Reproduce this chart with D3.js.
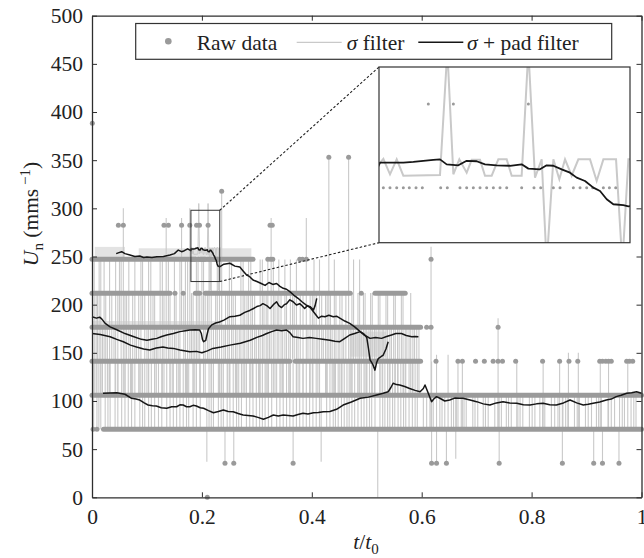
<!DOCTYPE html>
<html><head><meta charset="utf-8">
<script src="https://cdn.jsdelivr.net/npm/d3@7"></script>
<style>body{margin:0;background:#fff}svg{display:block}text{font-family:"Liberation Serif","Times New Roman",serif;fill:#222}</style>
</head><body><svg id="c" width="644" height="558"></svg>
<script>
// ---------- data ----------
const xTicks = [0, 0.2, 0.4, 0.6, 0.8, 1];
const xTickLabels = ["0", "0.2", "0.4", "0.6", "0.8", "1"];
const yTicks = [0, 50, 100, 150, 200, 250, 300, 350, 400, 450, 500];
const legendLabels = ["Raw data", "σ filter", "σ + pad filter"];

// raw data: dense runs at quantised levels [level, tStart, tEnd]
const rawRuns = [
  [70.6, 0.021, 1.0],
  [105.9, 0.0, 1.0],
  [141.2, 0.0, 0.36], [141.2, 0.37, 0.598],
  [176.5, 0.0, 0.598],
  [211.8, 0.0, 0.142], [211.8, 0.188, 0.196], [211.8, 0.206, 0.47], [211.8, 0.515, 0.57],
  [247.1, 0.0, 0.18], [247.1, 0.2325, 0.293]
];
// raw data: isolated samples [t, value]
const rawPoints = [
  [0.0006, 388.3], [0.2098, 0],
  [0.002, 70.6], [0.009, 70.6],
  [0.242, 35.3], [0.258, 35.3], [0.366, 35.3], [0.618, 35.3], [0.627, 35.3], [0.645, 35.3],
  [0.741, 35.3], [0.856, 35.3], [0.913, 35.3], [0.929, 35.3], [0.959, 35.3],
  [0.626, 141.2], [0.666, 141.2], [0.674, 141.2], [0.698, 141.2], [0.714, 141.2], [0.730, 141.2],
  [0.739, 141.2], [0.747, 141.2], [0.771, 141.2], [0.820, 141.2], [0.851, 141.2], [0.868, 141.2],
  [0.884, 141.2], [0.924, 141.2], [0.929, 141.2], [0.935, 141.2], [0.940, 141.2], [0.945, 141.2],
  [0.973, 141.2], [0.978, 141.2], [0.984, 141.2],
  [0.609, 176.5], [0.617, 176.5], [0.739, 176.5],
  [0.151, 211.8], [0.166, 211.8], [0.49, 211.8],
  [0.18091, 247.1], [0.18230, 247.1], [0.18370, 247.1], [0.18509, 247.1], [0.18634, 247.1],
  [0.18774, 247.1], [0.18906, 247.1], [0.19290, 247.1], [0.19429, 247.1], [0.19694, 247.1],
  [0.19834, 247.1], [0.19973, 247.1], [0.20113, 247.1], [0.20252, 247.1], [0.20392, 247.1],
  [0.20531, 247.1], [0.20671, 247.1], [0.20984, 247.1], [0.21242, 247.1], [0.21382, 247.1],
  [0.21647, 247.1], [0.21786, 247.1], [0.22065, 247.1], [0.22205, 247.1], [0.22344, 247.1],
  [0.22470, 247.1], [0.22693, 247.1], [0.22819, 247.1], [0.22951, 247.1],
  [0.32, 247.1], [0.325, 247.1], [0.329, 247.1], [0.378, 247.1], [0.383, 247.1], [0.39, 247.1], [0.617, 247.1],
  [0.048, 282.4], [0.057, 282.4], [0.131, 282.4], [0.139, 282.4], [0.163, 282.4], [0.178, 282.4],
  [0.19032, 282.4], [0.19555, 282.4], [0.21124, 282.4], [0.324, 282.4], [0.328, 282.4],
  [0.236, 317.7], [0.431, 353], [0.467, 353]
];

// sigma filter: light fuzz bands [tStart, tEnd, low, high]
const sigmaBands = [
  [0.005, 0.06, 247.1, 260], [0.085, 0.29, 247.1, 258.5],
  [0.0, 0.235, 176.5, 183], [0.47, 0.535, 146, 172]
];
// sigma filter: spikes of the filtered signal [t, low, high]
const sigmaSpikes = [
  [0.004,105.9,247],[0.01,141,212],[0.016,105.9,247],[0.022,141,247],[0.028,105.9,176],[0.036,141,212],
  [0.043,105.9,247],[0.05,176,247],[0.057,105.9,300],[0.063,141,212],[0.07,105.9,176],[0.078,141,247],
  [0.085,105.9,212],[0.092,176,247],[0.1,105.9,176],[0.107,141,247],[0.114,105.9,212],[0.12,141,176],
  [0.128,105.9,247],[0.135,141,290],[0.142,105.9,212],[0.15,141,247],[0.157,105.9,176],[0.163,176,290],
  [0.17,105.9,247],[0.178,141,300],[0.184,105.9,212],[0.19,141,247],[0.196,105.9,212],[0.2,176,247],
  [0.206,105.9,212],[0.213,141,247],[0.221,105.9,176],[0.228,141,247],[0.236,105.9,317.7],[0.243,141,212],
  [0.25,105.9,247],[0.257,141,212],[0.264,105.9,176],[0.271,141,247],[0.278,105.9,212],[0.285,141,247],
  [0.292,105.9,212],[0.299,141,176],[0.306,105.9,247],[0.313,141,212],[0.32,105.9,247],[0.326,141,290],
  [0.333,105.9,212],[0.34,141,247],[0.347,105.9,176],[0.354,141,212],[0.361,105.9,247],[0.368,141,212],
  [0.375,105.9,176],[0.39,141,290],[0.397,105.9,212],[0.404,141,247],[0.411,105.9,176],[0.418,141,212],
  [0.425,105.9,212],[0.431,141,353],[0.437,105.9,176],[0.444,141,212],[0.451,105.9,212],[0.458,141,176],
  [0.467,141,353],[0.473,105.9,212],[0.48,141,176],[0.487,105.9,247],[0.494,141,212],[0.5,105.9,176],
  [0.507,141,212],[0.514,105.9,176],[0.521,141,212],[0.528,105.9,176],[0.535,141,212],[0.542,105.9,176],
  [0.549,141,212],[0.556,105.9,176],[0.563,141,212],[0.57,105.9,176],[0.577,141,176],[0.584,105.9,176],
  [0.591,141,176],
  [0.209,37,105.9],[0.417,37,105.9],[0.52,0,70.6],
  [0.242,35.3,70.6],[0.258,35.3,70.6],[0.366,35.3,70.6],
  [0.617,70.6,260],[0.618,35.3,141],[0.627,35.3,148],[0.645,35.3,70.6],[0.648,70.6,148],[0.662,40,105.9],
  [0.666,70.6,141],[0.674,70.6,141],[0.739,70.6,186],[0.741,35.3,105.9],[0.773,70.6,141],[0.821,70.6,141],
  [0.851,70.6,141],[0.856,35.3,105.9],[0.867,70.6,150],[0.885,70.6,150],[0.913,35.3,70.6],[0.925,70.6,141],
  [0.929,35.3,70.6],[0.94,70.6,141],[0.959,35.3,70.6],[0.975,70.6,141]
];
const sigmaSpikesB = [
  [0.0075,105.9,212],[0.013,141,247],[0.019,105.9,176],[0.025,141,212],[0.032,105.9,247],[0.04,141,176],
  [0.047,105.9,212],[0.053,141,247],[0.06,105.9,212],[0.067,141,247],[0.074,105.9,212],[0.081,141,176],
  [0.089,105.9,247],[0.096,141,212],[0.103,105.9,247],[0.111,141,212],[0.117,105.9,176],[0.124,141,247],
  [0.131,105.9,212],[0.139,141,247],[0.146,105.9,176],[0.153,141,212],[0.16,105.9,247],[0.167,141,212],
  [0.174,105.9,247],[0.181,141,212],[0.187,105.9,176],[0.193,141,247],[0.203,105.9,247],[0.21,141,212],
  [0.217,105.9,247],[0.225,141,212],[0.232,105.9,247],[0.24,141,176],[0.247,105.9,212],[0.254,141,247],
  [0.261,105.9,212],[0.268,141,176],[0.275,105.9,247],[0.282,141,212],[0.289,105.9,247],[0.296,141,212],
  [0.303,105.9,176],[0.31,141,247],[0.317,105.9,212],[0.323,141,176],[0.33,105.9,247],[0.337,141,212],
  [0.344,105.9,212],[0.351,141,247],[0.358,105.9,176],[0.365,141,212],[0.372,105.9,247],[0.379,141,212],
  [0.384,105.9,212],[0.393,141,176],[0.401,105.9,212],[0.408,141,212],[0.414,105.9,247],[0.421,141,176],
  [0.428,105.9,212],[0.434,141,212],[0.441,105.9,247],[0.448,141,176],[0.455,105.9,212],[0.462,141,212],
  [0.47,105.9,176],[0.476,141,247],[0.484,105.9,212],[0.49,141,176],[0.497,105.9,212],[0.504,141,176],
  [0.51,105.9,212],[0.517,141,176],[0.524,105.9,212],[0.531,141,176],[0.538,105.9,212],[0.545,141,176],
  [0.552,105.9,212],[0.559,141,176],[0.566,105.9,212],[0.573,141,176],[0.58,105.9,212],[0.587,141,176],
  [0.595,105.9,176]
];
// sigma filter: spikes between the two lowest busy levels (t values)
const sigmaLowEarly = [0.003,0.009,0.016,0.024,0.033,0.042,0.054,0.066,0.078,0.087,0.096,0.103,0.114,0.127,
  0.136,0.148,0.16,0.172,0.176,0.19,0.213,0.221,0.23,0.239,0.251,0.263,0.272,0.281,0.293,0.305,0.315,0.327,
  0.336,0.348,0.36,0.372,0.384,0.396,0.408,0.427,0.439,0.448,0.459,0.468,0.478,0.49,0.5,0.509,0.524,0.533,
  0.542,0.551,0.562,0.571,0.583,0.592,
  0.0125,0.029,0.047,0.06,0.072,0.092,0.108,0.121,0.142,0.154,0.166,0.184,0.197,0.217,0.235,0.246,0.257,
  0.267,0.287,0.299,0.31,0.321,0.342,0.354,0.366,0.378,0.39,0.402,0.414,0.433,0.443,0.454,0.464,0.473,
  0.484,0.495,0.505,0.515,0.529,0.538,0.547,0.557,0.567,0.577,0.588];
const sigmaLowLate = [0.603,0.609,0.621,0.633,0.642,0.654,0.663,0.672,0.681,0.693,0.702,0.712,0.721,0.733,
  0.745,0.754,0.763,0.775,0.784,0.796,0.806,0.815,0.824,0.836,0.848,0.857,0.866,0.878,0.887,0.898,0.909,
  0.918,0.927,0.939,0.951,0.96,0.969,0.981,0.99,
  0.615,0.637,0.658,0.677,0.697,0.716,0.739,0.758,0.779,0.801,0.82,0.842,0.862,0.883,0.903,0.922,0.945,
  0.965,0.986];
// sigma filter trace inside the zoom window [t, value]
const sigmaWindow = [
  [0.1795,256],[0.18091,259.3],[0.18230,252.8],[0.18370,259.1],[0.18509,252.2],[0.19276,252.5],[0.19429,305],
  [0.19555,252.8],[0.19680,259.1],[0.19834,253.5],[0.19938,258.9],[0.20113,258.9],[0.20217,252.2],[0.20357,252.2],
  [0.20496,259.1],[0.20671,259.1],[0.20775,252.2],[0.20984,252.2],[0.21124,305],[0.21263,251.4],[0.21403,259.1],
  [0.21507,215],[0.21647,259.1],[0.21772,250.7],[0.21891,259.1],[0.22030,252.2],[0.22170,259.1],[0.22414,259.1],
  [0.22553,250],[0.22693,259.1],[0.22958,259.1],[0.23090,215],[0.23216,259.1],[0.2335,259.1]
];

// sigma + pad filter traces [t, value]
const padA = [
  [0.044,253],[0.049,254],[0.054,255],[0.06,253],[0.069,251.5],[0.078,250],[0.087,250.5],[0.094,249],[0.1,249.5],
  [0.109,249],[0.118,249.8],[0.13,250],[0.142,251.5],[0.15,253],[0.157,256.7],[0.163,255],[0.168,256],[0.174,258],
  [0.17986,256.1],[0.18021,257.7],[0.18125,257.7],[0.18509,257.7],[0.18718,258],[0.18927,258.5],[0.19136,258.9],
  [0.19276,259.1],[0.19415,257],[0.19659,256.6],[0.19834,258.5],[0.20043,258.3],[0.20217,257],[0.20461,256.6],
  [0.20740,256.4],[0.20984,257],[0.21124,255.2],[0.21367,254.9],[0.21507,256.6],[0.21647,256.4],[0.21821,254.9],
  [0.21995,253.5],[0.22135,251.4],[0.22309,250],[0.22483,247.2],[0.22623,245.8],[0.22763,242.3],[0.22901,240.2],
  [0.2311,239.8],[0.23216,239.3],[0.24,242],[0.251,243],[0.26,240],[0.269,239],[0.275,235],[0.281,231],[0.287,229],
  [0.293,225.6],[0.3,224],[0.308,222],[0.315,220],[0.322,223],[0.329,221],[0.336,222],[0.342,219],[0.348,217],
  [0.354,216],[0.36,213.5],[0.367,210],[0.375,206.6],[0.382,203],[0.39,199.6],[0.397,197],[0.403,192.7],
  [0.408,189],[0.412,186],[0.418,188],[0.424,187.5],[0.431,189],[0.439,187.5],[0.445,188],[0.451,186],
  [0.46,183],[0.469,180.6],[0.478,177],[0.488,172],[0.494,170],[0.5,166],[0.503,155],[0.506,142.7],[0.511,138],
  [0.515,132],[0.518,140],[0.521,144],[0.526,146],[0.53,147.7],[0.535,154],[0.539,161.5]
];
const padB = [
  [0,187.5],[0.008,186],[0.014,187],[0.018,185],[0.024,180.6],[0.033,177],[0.045,174],[0.06,170],[0.075,167],
  [0.09,164],[0.1,163],[0.109,164],[0.118,165],[0.127,167],[0.136,168.5],[0.148,170],[0.16,172],[0.17,173],
  [0.178,173.7],[0.188,174],[0.196,173.7],[0.199,170],[0.201,164],[0.203,161.5],[0.207,163],[0.209,168],
  [0.212,175],[0.218,179],[0.225,181],[0.232,182],[0.24,184],[0.251,187.5],[0.26,188],[0.269,189],[0.278,192],
  [0.287,194],[0.294,196],[0.3,198],[0.306,199],[0.311,201],[0.318,199],[0.324,196],[0.33,200],[0.336,203],
  [0.34,199],[0.345,197],[0.35,200],[0.354,201],[0.36,205],[0.366,203],[0.372,199.6],[0.378,201],[0.381,199.6],
  [0.387,196],[0.392,199],[0.397,198],[0.403,194.5],[0.406,199],[0.409,206.6]
];
const padC = [
  [0,170],[0.015,169],[0.033,166.7],[0.045,164],[0.057,161.5],[0.07,158],[0.081,156],[0.094,154],[0.105,153],
  [0.117,155],[0.129,156],[0.138,155],[0.148,154.6],[0.16,153],[0.178,151],[0.19,151.5],[0.2,150],[0.21,152],
  [0.22,154.6],[0.235,156],[0.251,158],[0.27,160],[0.288,163],[0.3,166],[0.31,168],[0.318,170],[0.327,172],
  [0.336,173.7],[0.345,173],[0.354,173.7],[0.36,171],[0.366,166.7],[0.375,166],[0.384,165],[0.396,166],
  [0.408,165],[0.42,164],[0.433,163],[0.442,162],[0.451,161.5],[0.46,165],[0.469,168.5],[0.478,170],
  [0.488,172],[0.494,169],[0.5,167],[0.506,165],[0.516,166],[0.527,165],[0.536,167],[0.545,168.5],[0.553,170],
  [0.563,170],[0.572,168],[0.582,166.7],[0.588,167],[0.594,166.7]
];
const padD = [
  [0.02,108],[0.045,108.5],[0.06,107],[0.072,102.8],[0.08,102],[0.087,101],[0.095,98],[0.102,95.8],[0.11,95],
  [0.117,94.8],[0.126,93],[0.136,92.4],[0.145,94],[0.154,94],[0.16,96],[0.166,95.8],[0.172,94],[0.178,94],
  [0.184,95.5],[0.19,94.8],[0.197,93],[0.203,92.4],[0.212,90],[0.221,87.8],[0.23,89],[0.239,90.6],[0.248,89],
  [0.257,88.9],[0.266,87],[0.275,85.4],[0.284,85],[0.293,84.4],[0.302,83],[0.312,81],[0.321,83],[0.33,85.4],
  [0.339,84.5],[0.348,85.4],[0.357,85],[0.366,84.4],[0.375,86],[0.384,87.2],[0.393,86.5],[0.403,87.8],
  [0.412,88],[0.421,88.9],[0.433,89],[0.445,91.4],[0.457,95.8],[0.472,99],[0.488,102.8],[0.503,104],
  [0.518,106.2],[0.53,108],[0.539,109.6],[0.544,114],[0.548,118.4],[0.554,117],[0.56,116.6],[0.569,115],
  [0.578,113],[0.588,111],[0.597,109.6],[0.603,113],[0.606,116.6],[0.612,108],[0.618,99.3],[0.622,102],
  [0.627,104.5],[0.633,102.8],[0.642,100],[0.651,101],[0.66,103],[0.669,102.8],[0.675,102.8],[0.688,101],
  [0.7,99.3],[0.712,97],[0.724,95.8],[0.736,98],[0.748,99.3],[0.76,98],[0.773,97.6],[0.785,96],[0.797,95.8],
  [0.809,97],[0.821,97.6],[0.833,96],[0.845,95.8],[0.858,98],[0.87,101],[0.882,98],[0.894,95.8],[0.903,96.5],
  [0.912,97.6],[0.924,99],[0.936,101],[0.945,102],[0.954,104.5],[0.963,106],[0.973,108],[0.982,108.5],
  [0.991,109.6],[1.0,108]
];
const zoomWindowT = [0.18, 0.2325];
const zoomWindowV = [224, 298];

// ---------- drawing ----------
const svg = d3.select("#c");
const x = d3.scaleLinear([0, 1], [92, 641.5]);
const y = d3.scaleLinear([0, 500], [497.3, 15.7]);
const RAW = "#9a9a9a", SIG = "#c9c9c9", PAD = "#161616", AX = "#2e2e2e";
const FS = 21.5;

const plot = svg.append("g");
plot.selectAll("rect.band").data(sigmaBands).join("rect").attr("class", "band")
  .attr("x", d => x(d[0])).attr("width", d => x(d[1]) - x(d[0]))
  .attr("y", d => y(d[3])).attr("height", d => y(d[2]) - y(d[3]))
  .attr("fill", "#e3e3e3");
const spikeData = sigmaSpikes.concat(sigmaSpikesB)
  .concat(sigmaLowEarly.map(t => [t, 70.6, 141.2]))
  .concat(sigmaLowLate.map(t => [t, 70.6, 105.9]));
plot.selectAll("line.spk").data(spikeData).join("line").attr("class", "spk")
  .attr("x1", d => x(d[0])).attr("x2", d => x(d[0]))
  .attr("y1", d => y(d[1])).attr("y2", d => y(d[2]))
  .attr("stroke", SIG).attr("stroke-width", 1.1);
const lineGen = (sx, sy) => d3.line().x(d => sx(d[0])).y(d => sy(d[1]));
plot.append("path").datum(sigmaWindow).attr("d", lineGen(x, y))
  .attr("fill", "none").attr("stroke", SIG).attr("stroke-width", 1);
plot.selectAll("line.run").data(rawRuns).join("line").attr("class", "run")
  .attr("x1", d => x(d[1])).attr("x2", d => x(d[2]))
  .attr("y1", d => y(d[0])).attr("y2", d => y(d[0]))
  .attr("stroke", RAW).attr("stroke-width", 5).attr("stroke-linecap", "round");
plot.selectAll("circle.raw").data(rawPoints).join("circle").attr("class", "raw")
  .attr("cx", d => x(d[0])).attr("cy", d => y(d[1])).attr("r", 2.5).attr("fill", RAW);
[padA, padB, padC, padD].forEach(s => {
  plot.append("path").datum(s).attr("d", lineGen(x, y))
    .attr("fill", "none").attr("stroke", PAD).attr("stroke-width", 1.5).attr("stroke-linejoin", "round");
});

// axes
function styleAxis(g) {
  g.attr("font-size", FS).attr("font-family", '"Liberation Serif","Times New Roman",serif');
  g.selectAll("path.domain").attr("stroke", AX).attr("stroke-width", 1.3);
  g.selectAll(".tick line").attr("stroke", AX).attr("stroke-width", 1);
  g.selectAll(".tick text").attr("fill", "#222");
}
svg.append("g").attr("transform", `translate(0,${y(0)})`)
  .call(d3.axisBottom(x).tickValues(xTicks).tickFormat((d, i) => xTickLabels[i]).tickSizeInner(-5).tickSizeOuter(0).tickPadding(11))
  .call(styleAxis);
svg.append("g").attr("transform", `translate(0,${y(500)})`)
  .call(d3.axisTop(x).tickValues(xTicks).tickFormat("").tickSizeInner(-5).tickSizeOuter(0))
  .call(styleAxis);
svg.append("g").attr("transform", `translate(${x(0)},0)`)
  .call(d3.axisLeft(y).tickValues(yTicks).tickSizeInner(-5).tickSizeOuter(0).tickPadding(9))
  .call(styleAxis);
svg.append("g").attr("transform", `translate(${x(1)},0)`)
  .call(d3.axisRight(y).tickValues(yTicks).tickFormat("").tickSizeInner(-5).tickSizeOuter(0))
  .call(styleAxis);

// zoom rectangle + connectors
const zx0 = x(zoomWindowT[0]), zx1 = x(zoomWindowT[1]), zy0 = y(zoomWindowV[1]), zy1 = y(zoomWindowV[0]);
svg.append("rect").attr("x", zx0).attr("y", zy0).attr("width", zx1 - zx0).attr("height", zy1 - zy0)
  .attr("fill", "none").attr("stroke", "#333").attr("stroke-width", 1);
const inset = { x0: 379, x1: 630, y0: 67, y1: 242.7 };
svg.append("line").attr("x1", zx1).attr("y1", zy0).attr("x2", inset.x0).attr("y2", inset.y0)
  .attr("stroke", "#222").attr("stroke-width", 1.1).attr("stroke-dasharray", "2.5,2");
svg.append("line").attr("x1", zx1).attr("y1", zy1).attr("x2", inset.x0).attr("y2", inset.y1)
  .attr("stroke", "#222").attr("stroke-width", 1.1).attr("stroke-dasharray", "2.5,2");

// inset
const ix = d3.scaleLinear(zoomWindowT, [inset.x0, inset.x1]);
const iy = d3.scaleLinear(zoomWindowV, [inset.y1, inset.y0]);
svg.append("defs").append("clipPath").attr("id", "insetClip").append("rect")
  .attr("x", inset.x0).attr("y", inset.y0).attr("width", inset.x1 - inset.x0).attr("height", inset.y1 - inset.y0);
svg.append("rect").attr("x", inset.x0).attr("y", inset.y0).attr("width", inset.x1 - inset.x0).attr("height", inset.y1 - inset.y0)
  .attr("fill", "#fff");
const ig = svg.append("g").attr("clip-path", "url(#insetClip)");
ig.append("path").datum(sigmaWindow).attr("d", lineGen(ix, iy)).attr("fill", "none").attr("stroke", SIG).attr("stroke-width", 2);
ig.selectAll("circle").data(rawPoints.filter(d => d[0] >= zoomWindowT[0] && d[0] <= zoomWindowT[1] && d[1] >= zoomWindowV[0] && d[1] <= zoomWindowV[1]))
  .join("circle").attr("cx", d => ix(d[0])).attr("cy", d => iy(d[1])).attr("r", 1.5).attr("fill", RAW);
ig.append("path").datum(padA.filter(d => d[0] >= 0.175 && d[0] <= 0.24)).attr("d", lineGen(ix, iy))
  .attr("fill", "none").attr("stroke", PAD).attr("stroke-width", 1.8).attr("stroke-linejoin", "round");
svg.append("rect").attr("x", inset.x0).attr("y", inset.y0).attr("width", inset.x1 - inset.x0).attr("height", inset.y1 - inset.y0)
  .attr("fill", "none").attr("stroke", "#333").attr("stroke-width", 1.2);

// legend
const lg = svg.append("g");
lg.append("rect").attr("x", 135.7).attr("y", 23.5).attr("width", 476).attr("height", 35.8)
  .attr("fill", "#fff").attr("stroke", "#333").attr("stroke-width", 1.2);
lg.append("circle").attr("cx", 168.3).attr("cy", 41.3).attr("r", 3.3).attr("fill", RAW);
lg.append("text").attr("x", 196.7).attr("y", 49.5).attr("font-size", FS).text(legendLabels[0]);
lg.append("line").attr("x1", 296.7).attr("x2", 341.7).attr("y1", 42.3).attr("y2", 42.3).attr("stroke", SIG).attr("stroke-width", 1.2);
const t2 = lg.append("text").attr("x", 346.7).attr("y", 49.5).attr("font-size", FS);
t2.append("tspan").attr("font-style", "italic").text(legendLabels[1].slice(0, 1));
t2.append("tspan").text(legendLabels[1].slice(1));
lg.append("line").attr("x1", 418.3).attr("x2", 463.3).attr("y1", 42.3).attr("y2", 42.3).attr("stroke", PAD).attr("stroke-width", 1.5);
const t3 = lg.append("text").attr("x", 467).attr("y", 49.5).attr("font-size", FS);
t3.append("tspan").attr("font-style", "italic").text(legendLabels[2].slice(0, 1));
t3.append("tspan").text(legendLabels[2].slice(1));

// axis titles
const xl = svg.append("text").attr("x", 366).attr("y", 549).attr("text-anchor", "middle").attr("font-size", FS);
xl.append("tspan").attr("font-style", "italic").text("t");
xl.append("tspan").text("/");
xl.append("tspan").attr("font-style", "italic").text("t");
xl.append("tspan").attr("font-size", 15).attr("dy", 5).text("0");
const yl = svg.append("text").attr("transform", "translate(38,214) rotate(-90)").attr("text-anchor", "middle").attr("font-size", FS);
yl.append("tspan").attr("font-style", "italic").text("U");
yl.append("tspan").attr("font-size", 15).attr("dy", 5).text("n");
yl.append("tspan").attr("dy", -5).text(" (mms");
yl.append("tspan").attr("font-size", 15).attr("dy", -8).text(" −1");
yl.append("tspan").attr("dy", 8).text(")");
</script></body></html>
